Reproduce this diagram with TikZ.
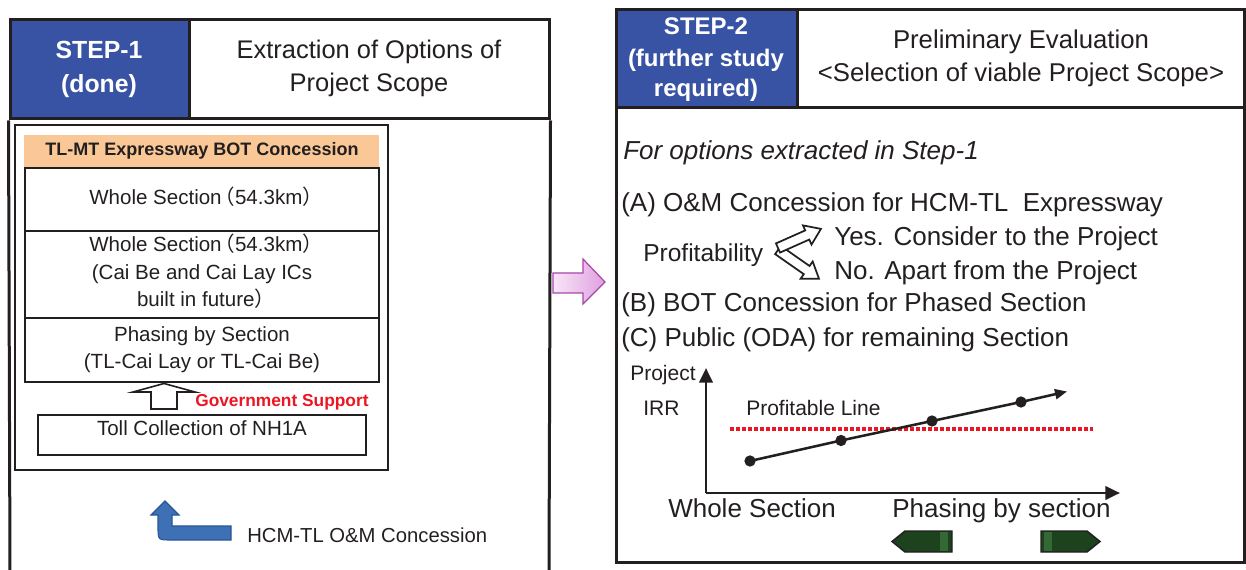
\documentclass[tikz,border=0pt]{standalone}
\usepackage{fontspec}
\setmainfont{Liberation Sans}
\newfontfamily\cjkjp{Noto Sans CJK JP}
\usetikzlibrary{arrows.meta,fit}
\definecolor{stepblue}{RGB}{57,83,164}
\definecolor{orangehdr}{RGB}{250,200,150}
\definecolor{govred}{RGB}{234,22,36}
\definecolor{txt}{RGB}{35,31,32}
\definecolor{frame}{RGB}{35,31,32}
\definecolor{pinkfill}{RGB}{222,160,222}
\definecolor{pinklight}{RGB}{248,230,248}
\definecolor{pinkline}{RGB}{168,70,168}
\definecolor{dkgreen}{RGB}{28,66,30}
\definecolor{ltgreen}{RGB}{52,104,52}
\definecolor{bentblue}{RGB}{62,112,182}
\definecolor{bentedge}{RGB}{40,85,150}
\newcommand{\fsz}[1]{\fontsize{#1pt}{#1pt}\selectfont}
\begin{document}
\begin{tikzpicture}[x=0.75pt,y=-0.75pt,
  pbox/.style={draw=frame, line width=2.25pt, inner sep=0pt},
  ibox/.style={draw=frame, line width=1.6pt, inner sep=0pt},
  tx/.style={inner sep=0pt, text=txt, anchor=base},
  txw/.style={inner sep=0pt, text=txt, anchor=base west},
  hdr/.style={font=\fsz{19.1}},
  steptx/.style={text=white, font=\fsz{18.6}\bfseries},
  boxtx/.style={font=\fsz{15.4}},
  bodytx/.style={font=\fsz{19.5}},
  smalltx/.style={font=\fsz{15.75}},
  harrow/.style={draw=frame, line width=1.3pt, fill=white, line join=miter},
  dot/.style={circle, fill=txt, inner sep=0pt, minimum size=8.5pt},
  axis/.style={draw=txt, line width=2.2pt, -{Triangle[length=11pt,width=10pt]}},
]
\useasboundingbox (0,0) rectangle (1246,570);

% ---------------- STEP 1 panel ----------------
\node[pbox, fill=stepblue, fit={(10,20)(189,119)}] (tag1) {};
\node[pbox, fit={(189,20)(549,119)}] (title1) {};
\coordinate (l1bot) at (10,572);
\coordinate (r1bot) at (549,572);
\draw[frame, line width=2.25pt] (tag1.south west) -- (l1bot);
\draw[frame, line width=2.25pt] (title1.south east) -- (r1bot);

\node[tx, steptx] (s1a) at (99,59) {STEP-1};
\node[tx, steptx] (s1b) at (99,92.5) {(done)};
\node[tx, hdr] (t1a) at (369,58.5) {Extraction of Options of};
\node[tx, hdr] (t1b) at (369,91.5) {Project Scope};

\node[ibox, fit={(15,125)(388,470)}] (inner) {};
\node[fill=orangehdr, inner sep=0pt, fit={(24,135)(379,167)}] (bothdr) {};
\node[tx, font=\fsz{13.5}\bfseries] (botlbl) at (202,156) {TL-MT Expressway BOT Concession};

\node[ibox, fit={(25,168)(379,231)}] (opt1) {};
\node[ibox, fit={(25,231)(379,318)}] (opt2) {};
\node[ibox, fit={(25,318)(379,382)}] (opt3) {};
\node[ibox, fit={(38,415)(366,455)}] (toll) {};

\node[tx, boxtx] (o1) at (202,205) {Whole Section\kern-0.35em{\cjkjp （}54.3km{\cjkjp ）}\kern-0.4em};
\node[tx, boxtx] (o2a) at (202,252) {Whole Section\kern-0.35em{\cjkjp （}54.3km{\cjkjp ）}\kern-0.4em};
\node[tx, boxtx] (o2b) at (202,279.5) {(Cai Be and Cai Lay ICs};
\node[tx, boxtx] (o2c) at (202,307) {built in future{\cjkjp ）}\kern-0.4em};
\node[tx, boxtx] (o3a) at (202,341.5) {Phasing by Section};
\node[tx, boxtx] (o3b) at (202,368.5) {(TL-Cai Lay or TL-Cai Be)};
\node[tx, boxtx] (tolltx) at (202,435) {Toll Collection of NH1A};

% hollow support arrow
\draw[harrow, line width=1.2pt] (151,409) -- (151,392) -- (133,392) -- (164,383.5) -- (195,392) -- (177,392) -- (177,409) -- cycle;
\node[txw, font=\fsz{13}\bfseries, text=govred] (gov) at (195,406) {Government Support};

% bent blue arrow
\draw[fill=bentblue, draw=bentedge, line width=0.8pt, line join=miter]
  (165,501) -- (179,515) -- (172,515) -- (172,526) -- (231,526) -- (231,540)
  -- (171,540) .. controls (158,540) .. (158,527) -- (158,515) -- (151,515) -- cycle;
\node[txw, font=\fsz{15.2}] (hcm) at (247,542.5) {HCM-TL O\&M Concession};

% pink transition arrow
\draw[left color=pinklight, right color=pinkfill, draw=pinkline, line width=0.9pt, line join=miter]
  (553,273) -- (583,273) -- (583,259) -- (605,282) -- (583,304) -- (583,293) -- (553,293) -- cycle;

% ---------------- STEP 2 panel ----------------
\node[pbox, fit={(616,108)(1244,562)}] (body2) {};
\node[pbox, fill=stepblue, fit={(616,10)(797,108)}] (tag2) {};
\node[pbox, fit={(797,10)(1244,108)}] (title2) {};

\node[tx, steptx, font=\fsz{18}\bfseries] (s2a) at (706,35) {STEP-2};
\node[tx, steptx, font=\fsz{18}\bfseries] (s2b) at (706,66.5) {(further study};
\node[tx, steptx, font=\fsz{18}\bfseries] (s2c) at (706,97) {required)};
\node[tx, font=\fsz{19.3}] (t2a) at (1021,48.5) {Preliminary Evaluation};
\node[tx, font=\fsz{19.3}] (t2b) at (1021,81.5) {<Selection of viable Project Scope>};

\node[txw, bodytx, font=\fsz{19.5}\itshape] (forop) at (623,160) {For options extracted in Step-1};
\node[txw, bodytx] (optA) at (621,211.5) {(A) O\&M Concession for HCM-TL\ \ Expressway};
\node[txw, font=\fsz{18.4}] (prof) at (643,261.5) {Profitability};
\node[txw, bodytx] (yes) at (834,246) {Yes. Consider to the Project};
\node[txw, bodytx] (no) at (834,279.5) {No. Apart from the Project};
\node[txw, bodytx] (optB) at (621,312) {(B) BOT Concession for Phased Section};
\node[txw, bodytx] (optC) at (621,346) {(C) Public (ODA) for remaining Section};

% profitability hollow arrows
\draw[harrow, shift={(778,250)}, rotate=-35] (0,-5) -- (35,-5) -- (35,-10.5) -- (50,0) -- (35,10.5) -- (35,5) -- (0,5) -- cycle;
\draw[harrow, shift={(778,248)}, rotate=24] (0,-5) -- (32,-5) -- (32,-10.5) -- (47,0) -- (32,10.5) -- (32,5) -- (0,5) -- cycle;

% graph
\coordinate (org) at (706,493);
\coordinate (ytop) at (706,368);
\coordinate (xend) at (1120,493);
\draw[axis] (org) -- (ytop);
\draw[axis] (org) -- (xend);
\node[txw, smalltx] (ylab1) at (630,380) {Project};
\node[txw, smalltx] (ylab2) at (643,415) {IRR};
\node[txw, smalltx] (proflbl) at (746,415) {Profitable Line};
\coordinate (pl1) at (730,429);
\coordinate (pl2) at (1093,429);
\draw[govred, line width=3pt, dash pattern=on 2.8pt off 1.7pt] (pl1) -- (pl2);

\node[dot] (d1) at (750,461) {};
\node[dot] (d2) at (841,440.5) {};
\node[dot] (d3) at (932,421) {};
\node[dot] (d4) at (1021,402) {};
\coordinate (dend) at (1067,391.5);
\draw[txt, line width=1.9pt, -{Triangle[length=9pt,width=7.5pt]}] (d1.center) -- (d2.center) -- (d3.center) -- (d4.center) -- (dend);

\node[txw, bodytx] (xl1) at (668,517) {Whole Section};
\node[txw, bodytx] (xl2) at (892,517) {Phasing by section};

% green direction arrows
\draw[fill=dkgreen, draw=frame, line width=1.1pt, line join=miter] (952,531) -- (905,531) -- (892,541.5) -- (905,552) -- (952,552) -- cycle;
\fill[ltgreen] (940,532) rectangle (948,551);
\draw[fill=dkgreen, draw=frame, line width=1.1pt, line join=miter] (1041,531) -- (1087,531) -- (1100,541.5) -- (1087,552) -- (1041,552) -- cycle;
\fill[ltgreen] (1044,532) rectangle (1052,551);
\end{tikzpicture}
\end{document}
